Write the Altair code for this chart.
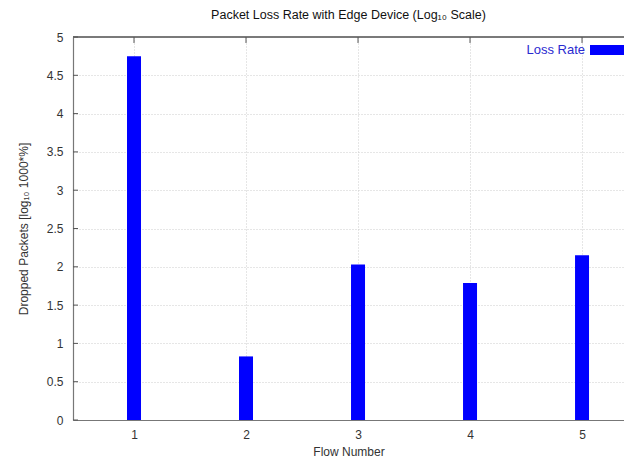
import altair as alt
import pandas as pd

flows = [1, 2, 3, 4, 5]
loss_rate = [4.75, 0.83, 2.03, 1.79, 2.15]
y_ticks = [0, 0.5, 1, 1.5, 2, 2.5, 3, 3.5, 4, 4.5, 5]
series_name = "Loss Rate"

W, H = 551, 383
FONT = "Liberation Sans"
BLUE = "#0000ff"

df = pd.DataFrame({"flow": flows, "loss": loss_rate})
ticks_df = pd.DataFrame({"v": y_ticks})

xscale = alt.Scale(domain=[0.5, 5.33], nice=False, zero=False)
yscale = alt.Scale(domain=[0, 5], nice=False)

xaxis = alt.Axis(values=flows, title="Flow Number", format="d",
                 grid=True, gridDash=[1, 2], gridColor="#cccccc",
                 ticks=False, labelPadding=9, titlePadding=6)
yaxis = alt.Axis(values=y_ticks, title="Dropped Packets [log\u2081\u2080 1000*%]",
                 format="~g", labelOverlap=False,
                 grid=True, gridDash=[1, 2], gridColor="#cccccc",
                 ticks=False, labelPadding=10, titlePadding=16)

bars = alt.Chart(df).mark_bar(size=14, color=BLUE).encode(
    x=alt.X("flow:Q", scale=xscale, axis=xaxis, title="Flow Number"),
    y=alt.Y("loss:Q", scale=yscale, axis=yaxis, title="Dropped Packets [log\u2081\u2080 1000*%]"),
)

top_border = alt.Chart(df).mark_rule(color="#777777", strokeWidth=1.2).encode(
    x=alt.value(0), x2=alt.value(W), y=alt.value(0)
)

top_ticks = alt.Chart(df).mark_rule(color="#555555").encode(
    x=alt.X("flow:Q", scale=xscale, axis=xaxis, title="Flow Number"),
    y=alt.value(0), y2=alt.value(6)
)

left_ticks = alt.Chart(ticks_df).mark_rule(color="#555555").encode(
    y=alt.Y("v:Q", scale=yscale, axis=yaxis, title="Dropped Packets [log\u2081\u2080 1000*%]"),
    x=alt.value(0), x2=alt.value(5)
)

legend_text = alt.Chart(pd.DataFrame({"t": [series_name]})).mark_text(
    align="right", baseline="middle", font=FONT, fontSize=13, color="#2a2ad0"
).encode(text="t:N", x=alt.value(W - 39), y=alt.value(13))

legend_rect = alt.Chart(pd.DataFrame({"t": [series_name]})).mark_rect(color=BLUE).encode(
    x=alt.value(W - 34), x2=alt.value(W + 3), y=alt.value(8), y2=alt.value(18)
)

chart = alt.layer(bars, top_border, top_ticks, left_ticks, legend_text, legend_rect).properties(
    width=W, height=H,
    title=alt.Title("Packet Loss Rate with Edge Device (Log\u2081\u2080 Scale)",
                    font=FONT, fontSize=12.5, fontWeight="normal", color="#111111",
                    offset=10),
    autosize=alt.AutoSizeParams(type="none"),
    padding={"left": 65, "top": 29, "right": 0, "bottom": 37},
).configure_view(stroke=None).configure_axis(
    labelFont=FONT, titleFont=FONT, labelFontSize=12, titleFontSize=12,
    titleFontWeight="normal", labelColor="#333333", titleColor="#333333",
    domainColor="#777777", domainWidth=1.2
)

chart.save("out.html", embed_options={"renderer": "svg", "actions": False})
